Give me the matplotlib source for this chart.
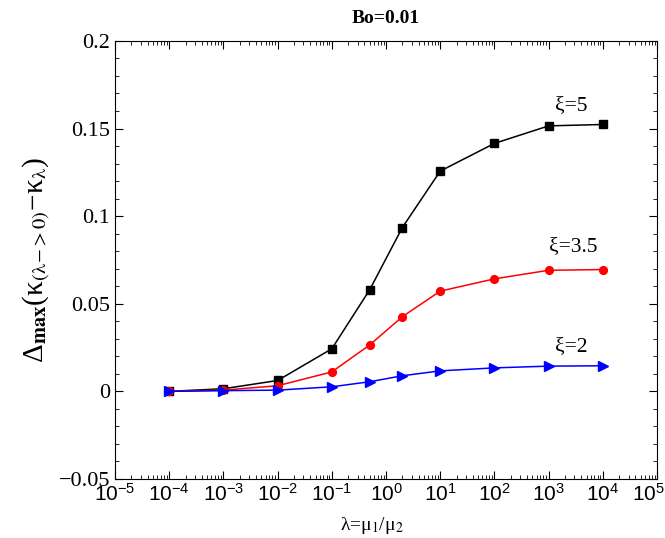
import matplotlib
matplotlib.use("Agg")
import matplotlib.pyplot as plt
import matplotlib.transforms as mtransforms
from matplotlib.ticker import MultipleLocator, LogLocator, NullFormatter, FuncFormatter

plt.rcParams['mathtext.fontset'] = 'custom'
plt.rcParams['mathtext.rm'] = 'Liberation Sans'
plt.rcParams['mathtext.it'] = 'Liberation Sans:italic'
plt.rcParams['mathtext.bf'] = 'Liberation Sans:bold'
plt.rcParams['font.family'] = ['Liberation Serif', 'DejaVu Serif']

lam = [1e-4, 1e-3, 1e-2, 1e-1, 0.5, 2, 10, 100, 1000, 10000]
xi5 = [0.0, 0.0015, 0.0062, 0.0243, 0.0580, 0.0935, 0.1257, 0.1415, 0.1515, 0.1523]
xi35 = [0.0, 0.0007, 0.0032, 0.0111, 0.0265, 0.0426, 0.0572, 0.0642, 0.0691, 0.0695]
xi2 = [0.0, 0.0004, 0.0007, 0.0026, 0.0055, 0.0089, 0.0117, 0.0134, 0.0144, 0.0146]
xexp = list(range(-5, 6))

fig = plt.figure(figsize=(6.65, 5.38), dpi=100)
ax = fig.add_axes([0.173, 0.1097, 0.815, 0.8143])

ax.plot(lam, xi5, color='black', marker='s', markersize=5.3, lw=1.1)
ax.plot(lam, xi35, color='red', marker='o', markersize=5.6, lw=1.1)
ax.plot(lam, xi2, color='blue', marker='>', markersize=6.5, lw=1.1)

ax.set_xscale('log')
ax.set_xlim(1e-5, 1e5)
ax.set_ylim(-0.05, 0.2)
ax.set_xticks([10.0**k for k in xexp])
ax.set_xticklabels([r'$10^{%d}$' % k for k in xexp], fontsize=15)
ax.xaxis.set_minor_locator(LogLocator(base=10, subs=range(2, 10), numticks=100))
ax.xaxis.set_minor_formatter(NullFormatter())
ax.yaxis.set_major_locator(MultipleLocator(0.05))
ax.yaxis.set_minor_locator(MultipleLocator(0.01))
ax.yaxis.set_major_formatter(FuncFormatter(lambda v, p: ('%g' % round(v, 3)).replace('-', '\u2212')))
ax.tick_params(axis='both', which='both', direction='in', top=True, right=True)
ax.tick_params(axis='both', which='major', length=6)
ax.tick_params(axis='both', which='minor', length=3)
ax.tick_params(axis='y', labelsize=16)
for lab in ax.get_yticklabels():
    lab.set_fontfamily(['Liberation Serif', 'DejaVu Serif'])

last = ax.get_xticklabels()[-1]
last.set_horizontalalignment('right')
last.set_transform(last.get_transform() + mtransforms.ScaledTranslation(0.075, 0, fig.dpi_scale_trans))

ax.set_title('Bo=0.01', fontsize=14, fontweight='bold', pad=13)
ax.set_xlabel('λ=μ$_1$/μ$_2$', fontsize=14, math_fontfamily='stix')
ax.xaxis.set_label_coords(0.474, -0.083)
ax.set_ylabel('Δ$_{\\mathbf{max}}$(κ$_{(\\mathrm{λ}\\!-\\!>0)}$−κ$_{\\mathrm{λ}}$)', fontsize=21,
              math_fontfamily='stix')

ax.text(2570, 0.163, 'ξ=5', fontsize=15.5, ha='center', va='center')
ax.text(2800, 0.0824, 'ξ=3.5', fontsize=15.5, ha='center', va='center')
ax.text(2570, 0.0256, 'ξ=2', fontsize=15.5, ha='center', va='center')

fig.savefig('out.png', dpi=100)
